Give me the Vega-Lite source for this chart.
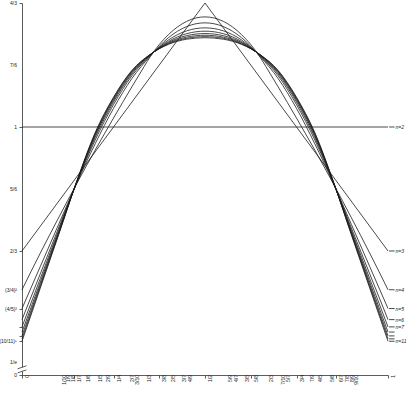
{
"$schema":"https://vega.github.io/schema/vega-lite/v6.json",
"width":366,"height":372,
"autosize":{"type":"none"},
"padding":{"left":22,"top":3,"right":19,"bottom":18},
"config":{"view":{"stroke":null},"font":"Liberation Sans"},
"datasets":{
"simple":[{"n":2,"x":0,"y":1},{"n":2,"x":1,"y":1},{"n":3,"x":0,"y":0.666667},{"n":3,"x":0.5,"y":1.333333},{"n":3,"x":1,"y":0.666667}],
"curves":[
{"n":4,"x":0,"y":0.5625},{"n":4,"x":0.05,"y":0.661},{"n":4,"x":0.1,"y":0.756},{"n":4,"x":0.15,"y":0.8488},{"n":4,"x":0.2,"y":0.938},{"n":4,"x":0.25,"y":1.024},{"n":4,"x":0.3,"y":1.1076},{"n":4,"x":0.333333,"y":1.162},{"n":4,"x":0.35,"y":1.1885},{"n":4,"x":0.4,"y":1.2482},{"n":4,"x":0.45,"y":1.284},{"n":4,"x":0.5,"y":1.296},{"n":4,"x":0.55,"y":1.284},{"n":4,"x":0.6,"y":1.2482},{"n":4,"x":0.65,"y":1.1885},{"n":4,"x":0.666667,"y":1.162},{"n":4,"x":0.7,"y":1.1076},{"n":4,"x":0.75,"y":1.024},{"n":4,"x":0.8,"y":0.938},{"n":4,"x":0.85,"y":0.8488},{"n":4,"x":0.9,"y":0.756},{"n":4,"x":0.95,"y":0.661},{"n":4,"x":1,"y":0.5625},
{"n":5,"x":0,"y":0.512},{"n":5,"x":0.05,"y":0.625},{"n":5,"x":0.1,"y":0.738},{"n":5,"x":0.15,"y":0.85},{"n":5,"x":0.2,"y":0.955},{"n":5,"x":0.25,"y":1.05},{"n":5,"x":0.3,"y":1.13},{"n":5,"x":0.35,"y":1.19},{"n":5,"x":0.4,"y":1.24},{"n":5,"x":0.45,"y":1.27},{"n":5,"x":0.5,"y":1.28},{"n":5,"x":0.55,"y":1.27},{"n":5,"x":0.6,"y":1.24},{"n":5,"x":0.65,"y":1.19},{"n":5,"x":0.7,"y":1.13},{"n":5,"x":0.75,"y":1.05},{"n":5,"x":0.8,"y":0.955},{"n":5,"x":0.85,"y":0.85},{"n":5,"x":0.9,"y":0.738},{"n":5,"x":0.95,"y":0.625},{"n":5,"x":1,"y":0.512},
{"n":6,"x":0,"y":0.4823},{"n":6,"x":0.05,"y":0.6054},{"n":6,"x":0.1,"y":0.7285},{"n":6,"x":0.15,"y":0.8517},{"n":6,"x":0.2,"y":0.9651},{"n":6,"x":0.25,"y":1.0601},{"n":6,"x":0.3,"y":1.1374},{"n":6,"x":0.35,"y":1.1917},{"n":6,"x":0.4,"y":1.2339},{"n":6,"x":0.45,"y":1.2585},{"n":6,"x":0.5,"y":1.2665},{"n":6,"x":0.55,"y":1.2585},{"n":6,"x":0.6,"y":1.2339},{"n":6,"x":0.65,"y":1.1917},{"n":6,"x":0.7,"y":1.1374},{"n":6,"x":0.75,"y":1.0601},{"n":6,"x":0.8,"y":0.9651},{"n":6,"x":0.85,"y":0.8517},{"n":6,"x":0.9,"y":0.7285},{"n":6,"x":0.95,"y":0.6054},{"n":6,"x":1,"y":0.4823},
{"n":7,"x":0,"y":0.4627},{"n":7,"x":0.05,"y":0.5925},{"n":7,"x":0.1,"y":0.7223},{"n":7,"x":0.15,"y":0.8528},{"n":7,"x":0.2,"y":0.9718},{"n":7,"x":0.25,"y":1.0668},{"n":7,"x":0.3,"y":1.1423},{"n":7,"x":0.35,"y":1.1928},{"n":7,"x":0.4,"y":1.2299},{"n":7,"x":0.45,"y":1.2509},{"n":7,"x":0.5,"y":1.2576},{"n":7,"x":0.55,"y":1.2509},{"n":7,"x":0.6,"y":1.2299},{"n":7,"x":0.65,"y":1.1928},{"n":7,"x":0.7,"y":1.1423},{"n":7,"x":0.75,"y":1.0668},{"n":7,"x":0.8,"y":0.9718},{"n":7,"x":0.85,"y":0.8528},{"n":7,"x":0.9,"y":0.7223},{"n":7,"x":0.95,"y":0.5925},{"n":7,"x":1,"y":0.4627},
{"n":8,"x":0,"y":0.4488},{"n":8,"x":0.05,"y":0.5833},{"n":8,"x":0.1,"y":0.7179},{"n":8,"x":0.15,"y":0.8536},{"n":8,"x":0.2,"y":0.9766},{"n":8,"x":0.25,"y":1.0716},{"n":8,"x":0.3,"y":1.1458},{"n":8,"x":0.35,"y":1.1936},{"n":8,"x":0.4,"y":1.2271},{"n":8,"x":0.45,"y":1.2456},{"n":8,"x":0.5,"y":1.2512},{"n":8,"x":0.55,"y":1.2456},{"n":8,"x":0.6,"y":1.2271},{"n":8,"x":0.65,"y":1.1936},{"n":8,"x":0.7,"y":1.1458},{"n":8,"x":0.75,"y":1.0716},{"n":8,"x":0.8,"y":0.9766},{"n":8,"x":0.85,"y":0.8536},{"n":8,"x":0.9,"y":0.7179},{"n":8,"x":0.95,"y":0.5833},{"n":8,"x":1,"y":0.4488},
{"n":9,"x":0,"y":0.4385},{"n":9,"x":0.05,"y":0.5765},{"n":9,"x":0.1,"y":0.7146},{"n":9,"x":0.15,"y":0.8542},{"n":9,"x":0.2,"y":0.9801},{"n":9,"x":0.25,"y":1.0751},{"n":9,"x":0.3,"y":1.1484},{"n":9,"x":0.35,"y":1.1942},{"n":9,"x":0.4,"y":1.225},{"n":9,"x":0.45,"y":1.2416},{"n":9,"x":0.5,"y":1.2466},{"n":9,"x":0.55,"y":1.2416},{"n":9,"x":0.6,"y":1.225},{"n":9,"x":0.65,"y":1.1942},{"n":9,"x":0.7,"y":1.1484},{"n":9,"x":0.75,"y":1.0751},{"n":9,"x":0.8,"y":0.9801},{"n":9,"x":0.85,"y":0.8542},{"n":9,"x":0.9,"y":0.7146},{"n":9,"x":0.95,"y":0.5765},{"n":9,"x":1,"y":0.4385},
{"n":10,"x":0,"y":0.4305},{"n":10,"x":0.05,"y":0.5712},{"n":10,"x":0.1,"y":0.712},{"n":10,"x":0.15,"y":0.8546},{"n":10,"x":0.2,"y":0.9828},{"n":10,"x":0.25,"y":1.0778},{"n":10,"x":0.3,"y":1.1504},{"n":10,"x":0.35,"y":1.1946},{"n":10,"x":0.4,"y":1.2233},{"n":10,"x":0.45,"y":1.2385},{"n":10,"x":0.5,"y":1.2429},{"n":10,"x":0.55,"y":1.2385},{"n":10,"x":0.6,"y":1.2233},{"n":10,"x":0.65,"y":1.1946},{"n":10,"x":0.7,"y":1.1504},{"n":10,"x":0.75,"y":1.0778},{"n":10,"x":0.8,"y":0.9828},{"n":10,"x":0.85,"y":0.8546},{"n":10,"x":0.9,"y":0.712},{"n":10,"x":0.95,"y":0.5712},{"n":10,"x":1,"y":0.4305},
{"n":11,"x":0,"y":0.4241},{"n":11,"x":0.05,"y":0.567},{"n":11,"x":0.1,"y":0.71},{"n":11,"x":0.15,"y":0.855},{"n":11,"x":0.2,"y":0.985},{"n":11,"x":0.25,"y":1.08},{"n":11,"x":0.3,"y":1.152},{"n":11,"x":0.35,"y":1.195},{"n":11,"x":0.4,"y":1.222},{"n":11,"x":0.45,"y":1.236},{"n":11,"x":0.5,"y":1.24},{"n":11,"x":0.55,"y":1.236},{"n":11,"x":0.6,"y":1.222},{"n":11,"x":0.65,"y":1.195},{"n":11,"x":0.7,"y":1.152},{"n":11,"x":0.75,"y":1.08},{"n":11,"x":0.8,"y":0.985},{"n":11,"x":0.85,"y":0.855},{"n":11,"x":0.9,"y":0.71},{"n":11,"x":0.95,"y":0.567},{"n":11,"x":1,"y":0.4241}
],
"ends":[
{"n":2,"y":1,"label":"n=2","x0":1.003,"x1":1.018},
{"n":3,"y":0.666667,"label":"n=3","x0":1.003,"x1":1.018},
{"n":4,"y":0.5625,"label":"n=4","x0":1.003,"x1":1.018},
{"n":5,"y":0.512,"label":"n=5","x0":1.003,"x1":1.018},
{"n":6,"y":0.482253,"label":"n=6","x0":1.003,"x1":1.018},
{"n":7,"y":0.462664,"label":"n=7","x0":1.003,"x1":1.018},
{"n":8,"y":0.448795,"label":"","x0":1.003,"x1":1.018},
{"n":9,"y":0.438462,"label":"","x0":1.003,"x1":1.018},
{"n":10,"y":0.430467,"label":"","x0":1.003,"x1":1.018},
{"n":11,"y":0.424098,"label":"n=11","x0":1.003,"x1":1.018}
],
"xlab":[
{"v":0,"lab":"0","b":0.333333},{"v":0.1,"lab":"1/10","b":0.333333},{"v":0.111111,"lab":"1/9","b":0.333333},{"v":0.125,"lab":"1/8","b":0.333333},{"v":0.142857,"lab":"1/7","b":0.333333},{"v":0.166667,"lab":"1/6","b":0.333333},{"v":0.2,"lab":"1/5","b":0.333333},{"v":0.222222,"lab":"2/9","b":0.333333},{"v":0.25,"lab":"1/4","b":0.333333},{"v":0.285714,"lab":"2/7","b":0.333333},{"v":0.3,"lab":"3/10","b":0.333333},{"v":0.333333,"lab":"1/3","b":0.333333},{"v":0.375,"lab":"3/8","b":0.333333},{"v":0.4,"lab":"2/5","b":0.333333},{"v":0.428571,"lab":"3/7","b":0.333333},{"v":0.444444,"lab":"4/9","b":0.333333},{"v":0.5,"lab":"1/2","b":0.333333},{"v":0.555556,"lab":"5/9","b":0.333333},{"v":0.571429,"lab":"4/7","b":0.333333},{"v":0.6,"lab":"3/5","b":0.333333},{"v":0.625,"lab":"5/8","b":0.333333},{"v":0.666667,"lab":"2/3","b":0.333333},{"v":0.7,"lab":"7/10","b":0.333333},{"v":0.714286,"lab":"5/7","b":0.333333},{"v":0.75,"lab":"3/4","b":0.333333},{"v":0.777778,"lab":"7/9","b":0.333333},{"v":0.8,"lab":"4/5","b":0.333333},{"v":0.833333,"lab":"5/6","b":0.333333},{"v":0.857143,"lab":"6/7","b":0.333333},{"v":0.875,"lab":"7/8","b":0.333333},{"v":0.888889,"lab":"8/9","b":0.333333},{"v":0.9,"lab":"9/10","b":0.333333},{"v":1,"lab":"1","b":0.333333}
],
"ylab":[
{"v":0.333333,"lab":"0","a":0},{"v":0.367879,"lab":"1/e","a":0},{"v":0.424098,"lab":"(10/11)⁹","a":0},{"v":0.430467,"lab":"","a":0},{"v":0.438462,"lab":"","a":0},{"v":0.448795,"lab":"","a":0},{"v":0.462664,"lab":"","a":0},{"v":0.482253,"lab":"","a":0},{"v":0.512,"lab":"(4/5)³","a":0},{"v":0.5625,"lab":"(3/4)²","a":0},{"v":0.666667,"lab":"2/3","a":0},{"v":0.833333,"lab":"5/6","a":0},{"v":1,"lab":"1","a":0},{"v":1.166667,"lab":"7/6","a":0},{"v":1.333333,"lab":"4/3","a":0}
],
"brk":[{"x0":-0.012,"x1":0.012,"y0":0.339,"y1":0.347},{"x0":-0.012,"x1":0.012,"y0":0.350,"y1":0.358}]
},
"layer":[
{"data":{"name":"curves"},
 "mark":{"type":"line","interpolate":"monotone","stroke":"#1a1a1a","strokeWidth":0.8},
 "encoding":{
  "x":{"field":"x","type":"quantitative","scale":{"domain":[0,1],"nice":false,"zero":false},
   "axis":{"title":null,"grid":false,"labels":false,"values":[0,0.1,0.111111,0.125,0.142857,0.166667,0.2,0.222222,0.25,0.285714,0.3,0.333333,0.375,0.4,0.428571,0.444444,0.5,0.555556,0.571429,0.6,0.625,0.666667,0.7,0.714286,0.75,0.777778,0.8,0.833333,0.857143,0.875,0.888889,0.9,1],
   "tickSize":3,"domainColor":"#333","tickColor":"#333","domainWidth":0.8,"tickWidth":0.8}},
  "y":{"field":"y","type":"quantitative","scale":{"domain":[0.333333,1.333333],"nice":false,"zero":false},
   "axis":{"title":null,"grid":false,"labels":false,"values":[0.333333,0.367879,0.424098,0.430467,0.438462,0.448795,0.462664,0.482253,0.512,0.5625,0.666667,0.833333,1,1.166667,1.333333],
   "tickSize":3,"domainColor":"#333","tickColor":"#333","domainWidth":0.8,"tickWidth":0.8}},
  "detail":{"field":"n","type":"nominal"}}},
{"data":{"name":"simple"},
 "mark":{"type":"line","interpolate":"linear","stroke":"#1a1a1a","strokeWidth":0.8},
 "encoding":{"x":{"field":"x","type":"quantitative"},"y":{"field":"y","type":"quantitative"},"detail":{"field":"n","type":"nominal"}}},
{"data":{"name":"ends"},
 "mark":{"type":"rule","stroke":"#1a1a1a","strokeWidth":0.8},
 "encoding":{"x":{"field":"x0","type":"quantitative"},"x2":{"field":"x1"},"y":{"field":"y","type":"quantitative"}}},
{"data":{"name":"ends"},
 "mark":{"type":"text","align":"left","baseline":"middle","dx":1,"fontSize":5,"fontStyle":"italic","color":"#222"},
 "encoding":{"x":{"field":"x1","type":"quantitative"},"y":{"field":"y","type":"quantitative"},"text":{"field":"label"}}},
{"data":{"name":"xlab"},
 "mark":{"type":"text","angle":270,"align":"right","baseline":"middle","dy":5,"fontSize":5,"color":"#222"},
 "encoding":{"x":{"field":"v","type":"quantitative"},"y":{"field":"b","type":"quantitative"},"text":{"field":"lab"}}},
{"data":{"name":"ylab"},
 "mark":{"type":"text","align":"right","baseline":"middle","dx":-5,"fontSize":5,"color":"#222"},
 "encoding":{"x":{"field":"a","type":"quantitative"},"y":{"field":"v","type":"quantitative"},"text":{"field":"lab"}}},
{"data":{"values":[{"x0":-0.02,"x1":0.02,"y0":0.343,"y1":0.354}]},
 "mark":{"type":"rect","color":"white"},
 "encoding":{"x":{"field":"x0","type":"quantitative"},"x2":{"field":"x1"},"y":{"field":"y0","type":"quantitative"},"y2":{"field":"y1"}}},
{"data":{"name":"brk"},
 "mark":{"type":"rule","stroke":"#333","strokeWidth":0.8},
 "encoding":{"x":{"field":"x0","type":"quantitative"},"x2":{"field":"x1"},"y":{"field":"y0","type":"quantitative"},"y2":{"field":"y1"}}}
]
}
